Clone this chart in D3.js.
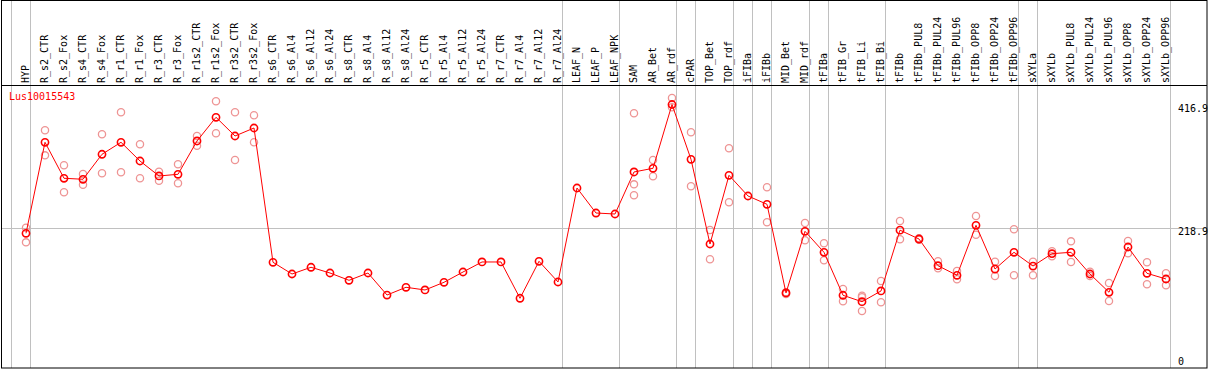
<!DOCTYPE html>
<html>
<head>
<meta charset="utf-8">
<script src="https://cdn.jsdelivr.net/npm/d3@7"></script>
<style>
  html, body { margin: 0; padding: 0; background: #fff; }
  svg text { font-family: "DejaVu Sans Mono", monospace; font-size: 10px; }
</style>
</head>
<body>
<svg id="chart" width="1209" height="370"></svg>
<script>
const samples = ["HYP","R_s2_CTR","R_s2_Fox","R_s4_CTR","R_s4_Fox","R_r1_CTR","R_r1_Fox","R_r3_CTR","R_r3_Fox",
  "R_r1s2_CTR","R_r1s2_Fox","R_r3s2_CTR","R_r3s2_Fox","R_s6_CTR","R_s6_Al4","R_s6_Al12","R_s6_Al24",
  "R_s8_CTR","R_s8_Al4","R_s8_Al12","R_s8_Al24","R_r5_CTR","R_r5_Al4","R_r5_Al12","R_r5_Al24",
  "R_r7_CTR","R_r7_Al4","R_r7_Al12","R_r7_Al24","LEAF_N","LEAF_P","LEAF_NPK","SAM","AR_Bet","AR_rdf",
  "cPAR","TOP_Bet","TOP_rdf","iFIBa","iFIBb","MID_Bet","MID_rdf","tFIBa","tFIB_Gr","tFIB_Li","tFIB_Bi",
  "tFIBb","tFIBb_PUL8","tFIBb_PUL24","tFIBb_PUL96","tFIBb_OPP8","tFIBb_OPP24","tFIBb_OPP96",
  "sXYLa","sXYLb","sXYLb_PUL8","sXYLb_PUL24","sXYLb_PUL96","sXYLb_OPP8","sXYLb_OPP24","sXYLb_OPP96"];

// mean expression per sample
const means = [210.4,356.3,298.6,297.0,337.1,356.3,326.3,302.3,305.0,358.4,396.4,366.4,379.2,
  163.9,145.1,155.9,146.7,135.0,146.7,111.4,123.8,119.5,131.8,148.3,164.4,164.4,106.2,165.5,132.3,
  283.0,242.9,241.3,308.7,314.6,416.9,329.0,193.2,303.4,270.2,256.9,114.7,213.6,179.9,111.0,100.7,117.9,
  215.4,201.2,158.4,143.0,223.2,153.1,179.9,157.9,177.7,179.9,145.1,115.8,188.4,146.2,137.1];

// individual replicates (empty where none shown)
const replicates = [
  [219.4,195.9],[375.5,335.4],[319.4,276.1],[305.5,288.3],[369.1,306.6],[404.4,308.2],[353.1,298.6],
  [309.2,294.7],[321.0,290.6],[366.4,350.8],[422.0,370.7],[404.4,327.9],[399.6,356.3],
  [],[],[],[],[],[],[],[],[],[],[],[],[],[],[],[],
  [],[],[],
  [402.8,288.9,271.3],[327.9,301.8],[427.3,412.4],[372.3,285.7],[215.7,168.7],[346.7,260.1],[],
  [284.1,228.0],[116.0,113.0],[226.9,199.2],[194.3,167.1],[121.1,101.3],[110.3,85.8,107.8],[133.9,99.7],
  [230.1,200.9],[202.5,200.0],[165.5,154.3],[149.9,136.6],[238.1,208.1],[164.8,141.9],[216.8,143.0],
  [164.8,143.0],[181.5,173.5],[197.5,164.4],[148.8,141.9],[130.7,101.8],[198.0,178.3],[163.9,128.6],[146.2,127.0]
];

const yTicks = [0, 218.9, 416.9];
const groupEnds = ["HYP","R_r7_Al24","LEAF_NPK","AR_rdf","cPAR","TOP_rdf","iFIBa","iFIBb","MID_rdf",
  "tFIBa","tFIB_Bi","tFIBb_OPP96","sXYLa","sXYLb_OPP96"];
const geneName = "Lus10015543";

const svg = d3.select("#chart");
const W = 1209, H = 370;
const headerY = 85;

const x = d3.scaleBand().domain(samples).range([11, 11 + 19 * samples.length]);
const px = d => x(d) + 15;
const y = d3.scaleLinear().domain([0, 416.9]).range([364.5, 104.5]);

// vertical group separators
const sepX = [x(samples[0])].concat(groupEnds.map(g => x(g) + x.bandwidth()));
svg.append("g").selectAll("line")
  .data(sepX)
  .join("line")
  .attr("x1", d => d + 0.5).attr("x2", d => d + 0.5)
  .attr("y1", 0).attr("y2", H - 2)
  .attr("stroke", "#c0c0c0").attr("stroke-width", 1);

// middle horizontal grid line
svg.append("line")
  .attr("x1", 1).attr("x2", W - 2)
  .attr("y1", Math.round(y(yTicks[1])) + 0.5).attr("y2", Math.round(y(yTicks[1])) + 0.5)
  .attr("stroke", "#c0c0c0");

// frame and header line
svg.append("rect")
  .attr("x", 1.5).attr("y", 0.5).attr("width", W - 3.5).attr("height", H - 2.5)
  .attr("fill", "none").attr("stroke", "#000");
svg.append("line")
  .attr("x1", 1).attr("x2", W - 2).attr("y1", headerY + 0.5).attr("y2", headerY + 0.5)
  .attr("stroke", "#000");

// column labels
svg.append("g").selectAll("text")
  .data(samples)
  .join("text")
  .attr("transform", d => `translate(${px(d) + 2.5},83) rotate(-90)`)
  .attr("fill", "#000")
  .text(d => d);

// right axis labels
svg.append("g").selectAll("text")
  .data(yTicks)
  .join("text")
  .attr("x", 1178)
  .attr("y", d => d === 0 ? y(d) : y(d) + 7.5)
  .attr("fill", "#000")
  .text(d => d === 0 ? "0" : d3.format(".1f")(d));

// gene name
svg.append("text")
  .attr("x", 9).attr("y", 100)
  .attr("fill", "#ff0000")
  .text(geneName);

// replicates
const reps = [];
replicates.forEach((r, i) => r.forEach(v => reps.push({ s: samples[i], v })));
svg.append("g").selectAll("circle")
  .data(reps)
  .join("circle")
  .attr("cx", d => px(d.s))
  .attr("cy", d => y(d.v))
  .attr("r", 3.6)
  .attr("fill", "none")
  .attr("stroke", "#ee9494")
  .attr("stroke-width", 1.3);

// mean line
const pts = samples.map((s, i) => ({ s, v: means[i] }));
svg.append("path")
  .datum(pts)
  .attr("d", d3.line().x(d => px(d.s)).y(d => y(d.v)))
  .attr("fill", "none")
  .attr("stroke", "#ff0000")
  .attr("stroke-width", 1);

svg.append("g").selectAll("circle")
  .data(pts)
  .join("circle")
  .attr("cx", d => px(d.s))
  .attr("cy", d => y(d.v))
  .attr("r", 3.6)
  .attr("fill", "none")
  .attr("stroke", "#ff0000")
  .attr("stroke-width", 1.6);
</script>
</body>
</html>
